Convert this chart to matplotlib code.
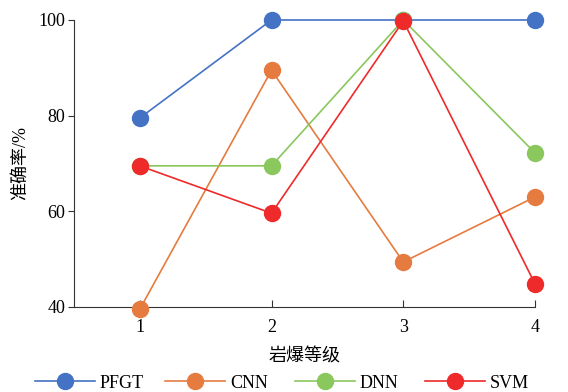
import numpy as np
import matplotlib.pyplot as plt

plt.rcParams['font.family'] = ['Liberation Serif', 'Noto Sans CJK SC']
plt.rcParams['font.size'] = 13

levels = [1, 2, 3, 4]
pfgt = [79.5, 100, 100, 100]
cnn = [39.5, 89.5, 49.4, 63.0]
dnn = [69.5, 69.5, 100, 72.2]
svm = [69.5, 59.6, 99.8, 44.8]

names = ['PFGT', 'CNN', 'DNN', 'SVM']
colors = ['#4472C4', '#E57B3F', '#8AC75C', '#EE2A2A']

fig = plt.figure(figsize=(5.68, 3.92), dpi=100)
ax = fig.add_axes([0.130, 0.217, 0.812, 0.732])

handles = []
for vals, name, c in zip([pfgt, cnn, dnn, svm], names, colors):
    h, = ax.plot(levels, vals, color=c, lw=1.2, marker='o', ms=11.5,
                 label=name, clip_on=False, zorder=3)
    handles.append(h)

ax.set_xlim(0.5, 4)
ax.set_ylim(40, 100)
ax.set_xticks(levels)
ax.set_yticks([40, 60, 80, 100])
ax.spines['top'].set_visible(False)
ax.spines['right'].set_visible(False)
for s in ['left', 'bottom']:
    ax.spines[s].set_color('#333333')
ax.tick_params(axis='x', direction='in', length=5, color='#333333', pad=9)
ax.tick_params(axis='y', direction='out', length=4, color='#333333', pad=2)
ax.set_xlabel('岩爆等级', fontsize=13, labelpad=9)
ax.set_ylabel('准确率/%', fontsize=13, labelpad=7)

# legend entries are evenly spaced in the reference, so place them one by one
leg_x = [35, 165, 295, 425]
for h, name, x in zip(handles, names, leg_x):
    leg = fig.legend([h], [name], loc='center left',
                     bbox_to_anchor=(x / 568, 1 - 383 / 392),
                     frameon=False, handlelength=3.3, handletextpad=0.3,
                     borderpad=0, borderaxespad=0, fontsize=13)

fig.savefig('out.png', dpi=100)
